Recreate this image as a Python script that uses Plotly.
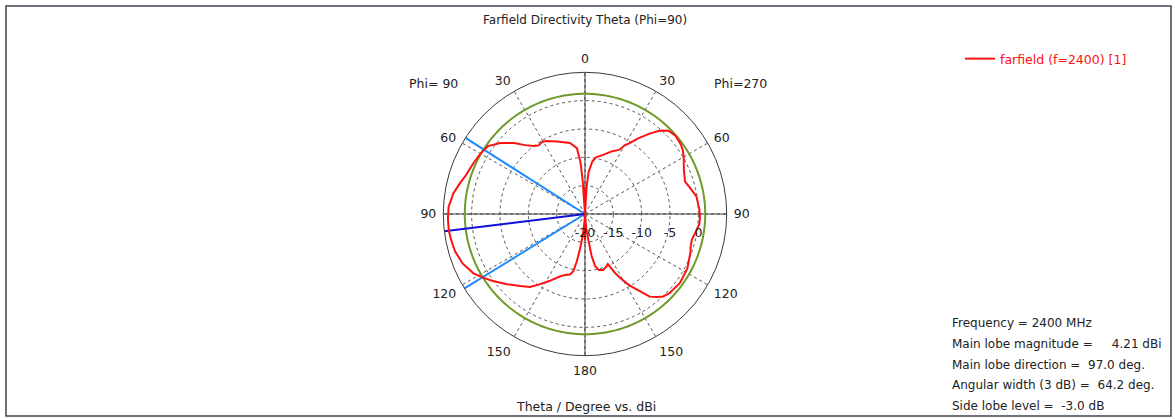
import numpy as np
import plotly.graph_objects as go

# ---------------- data ----------------
# Phi = 90 half (left side): theta in degrees, directivity in dBi
theta_phi90 = [0, 2, 4, 5, 7, 12, 21, 28, 31, 34, 37, 41, 45, 50, 55, 60, 65, 72, 76, 81, 87, 92,
               97, 101, 106, 112, 118, 122, 126, 132, 138, 143, 147, 152, 158, 162, 166, 168.5,
               170, 172, 174, 176, 178, 180]
db_phi90 = [-15.3, -20, -14.0, -10.8, -8.3, -7.2, -6.3, -5.4, -5.2, -5.4, -5.0, -3.9, -2.3, -0.5,
            0.9, 1.3, 1.6, 2.1, 2.7, 3.5, 4.1, 4.2, 4.21, 4.05, 3.85, 3.3, 2.3, 1.2, 0.1, -1.5,
            -2.9, -3.9, -5.2, -6.6, -8.1, -8.7, -9.0, -9.7, -11.3, -13.8, -16.2, -18.5, -20, -15.4]

# Phi = 270 half (right side)
theta_phi270 = [0, 2, 3.5, 5, 8, 11, 17, 23, 28, 30, 32, 35, 39, 42, 45, 49, 54, 57, 60, 66, 72,
                76, 81, 88, 92, 95, 100, 103.5, 107, 110, 118, 126, 133, 136.5, 139, 142, 144.6,
                148, 151, 153, 155.5, 158, 162, 166, 169, 171, 172.7, 175, 178, 180]
db_phi270 = [-15.3, -20, -15.0, -12.5, -10.6, -9.8, -9.1, -8.0, -7.2, -6.0, -5.3, -3.7, -1.7,
             -0.2, 0.8, 1.1, 0.9, 0.6, 0.1, -0.9, -1.45, -0.9, -0.1, 0.2, 0.3, 0.25, -0.3, -0.6,
             -0.5, -0.2, 0.45, 0.7, 0.45, 0.05, -0.6, -1.5, -3.3, -5.1, -7.0, -8.3, -10.3, -10.0,
             -9.6, -9.8, -10.6, -12.5, -15.4, -17.3, -20, -15.4]

angle_tickvals = [0, 30, 60, 90, 120, 150, 180, 210, 240, 270, 300, 330]
angle_ticktext = ["0", "30", "60", "90", "120", "150", "180", "150", "120", "90", "60", "30"]
radial_tickvals = [-20, -15, -10, -5, 0]
radial_ticktext = ["-20", "-15", "-10", "-5", "0"]

frequency_mhz = 2400
main_lobe_mag = 4.21
main_lobe_dir = 97.0
angular_width = 64.2
beam_edges = [57.5, 121.7]
side_lobe_level = -3.0
r_min, r_max = -20, 5

# ---------------- figure ----------------
W, H = 1175, 419
def px(x):
    return x / W
def py(y):
    return 1 - y / H

FONT = "DejaVu Sans"
TXT = "#222222"

theta_all = theta_phi90 + [360 - t for t in reversed(theta_phi270)]
r_all = list(np.maximum(np.array(db_phi90 + list(reversed(db_phi270))), r_min))

fig = go.Figure()

# solid cross lines (0-180 and 90-270)
fig.add_trace(go.Scatterpolar(r=[r_max, r_min, r_max], theta=[0, 0, 180], mode="lines",
                              line=dict(color="#3a3a3a", width=1), showlegend=False, hoverinfo="skip"))
fig.add_trace(go.Scatterpolar(r=[r_max, r_min, r_max], theta=[90, 90, 270], mode="lines",
                              line=dict(color="#3a3a3a", width=1), showlegend=False, hoverinfo="skip"))

# -3 dB circle
circ_theta = np.linspace(0, 360, 361)
fig.add_trace(go.Scatterpolar(r=[main_lobe_mag - 3] * len(circ_theta), theta=circ_theta,
                              mode="lines", line=dict(color="#6f9a2a", width=2),
                              showlegend=False, hoverinfo="skip"))

# beam width lines
for b in beam_edges:
    fig.add_trace(go.Scatterpolar(r=[r_min, r_max], theta=[b, b], mode="lines",
                                  line=dict(color="#1e8cff", width=2),
                                  showlegend=False, hoverinfo="skip"))
# main lobe direction
fig.add_trace(go.Scatterpolar(r=[r_min, r_max], theta=[main_lobe_dir, main_lobe_dir], mode="lines",
                              line=dict(color="#1010d8", width=2),
                              showlegend=False, hoverinfo="skip"))

# farfield pattern
fig.add_trace(go.Scatterpolar(r=r_all, theta=theta_all, mode="lines",
                              line=dict(color="#ff1010", width=2),
                              name="farfield (f=%d) [1]" % frequency_mhz))

cx, cy, R = 585, 214, 141.7
fig.update_layout(
    width=W, height=H,
    margin=dict(l=0, r=0, t=0, b=0),
    paper_bgcolor="white",
    font=dict(family=FONT, size=12, color=TXT),
    polar=dict(
        domain=dict(x=[px(cx - R), px(cx + R)], y=[py(cy + R), py(cy - R)]),
        bgcolor="white",
        angularaxis=dict(
            rotation=90, direction="counterclockwise",
            tickmode="array", tickvals=angle_tickvals, ticktext=angle_ticktext,
            showline=True, linecolor="#3a3a3a", linewidth=1,
            showgrid=True, gridcolor="#555555", gridwidth=1, griddash="dot",
            ticks="outside", ticklen=4, tickcolor="rgba(0,0,0,0)",
            tickfont=dict(family=FONT, size=12.5, color=TXT),
        ),
        radialaxis=dict(
            range=[r_min, r_max], angle=0, side="clockwise",
            tickmode="array", tickvals=radial_tickvals, ticktext=radial_ticktext,
            showline=False, ticks="outside", ticklen=7, tickcolor="rgba(0,0,0,0)",
            showgrid=True, gridcolor="#555555", gridwidth=1, griddash="dot",
            tickfont=dict(family=FONT, size=12.5, color=TXT),
        ),
    ),
    showlegend=True,
    legend=dict(x=px(960), y=py(44), xanchor="left", yanchor="top",
                bgcolor="rgba(0,0,0,0)", font=dict(family=FONT, size=12.5, color="#ff1010")),
)

ann = []
def add_text(x, y, text, xanchor="center", size=12.5):
    ann.append(dict(x=px(x), y=py(y), xref="paper", yref="paper", text=text, showarrow=False,
                    xanchor=xanchor, yanchor="middle", font=dict(family=FONT, size=size, color=TXT)))

add_text(585, 20, "Farfield Directivity Theta (Phi=90)", size=12)
add_text(433, 84, "Phi= 90")
add_text(740, 84, "Phi=270")
add_text(586, 406, "Theta / Degree vs. dBi")

nb = "\u00a0"
info = [
    "Frequency = %d MHz" % frequency_mhz,
    "Main lobe magnitude =" + nb * 5 + "%.2f dBi" % main_lobe_mag,
    "Main lobe direction =" + nb * 2 + "%.1f deg." % main_lobe_dir,
    "Angular width (3 dB) =" + nb * 2 + "%.1f deg." % angular_width,
    "Side lobe level =" + nb * 2 + "%.1f dB" % side_lobe_level,
]
for i, t in enumerate(info):
    add_text(950, 323 + i * 20.8, t, xanchor="left", size=12)

fig.update_layout(annotations=ann)

fig.add_shape(type="rect", xref="paper", yref="paper",
              x0=px(6), x1=px(1171), y0=py(416), y1=py(6),
              line=dict(color="#3c4350", width=1.5), fillcolor="rgba(0,0,0,0)", layer="below")

fig.write_html("out.html", config={"displayModeBar": False})

# remove the browser's default page margin so the figure sits at the window origin
with open("out.html", "r", encoding="utf-8") as f:
    html = f.read()
html = html.replace("<head>", "<head><style>html,body{margin:0;padding:0;overflow:hidden;}</style>", 1)
with open("out.html", "w", encoding="utf-8") as f:
    f.write(html)
